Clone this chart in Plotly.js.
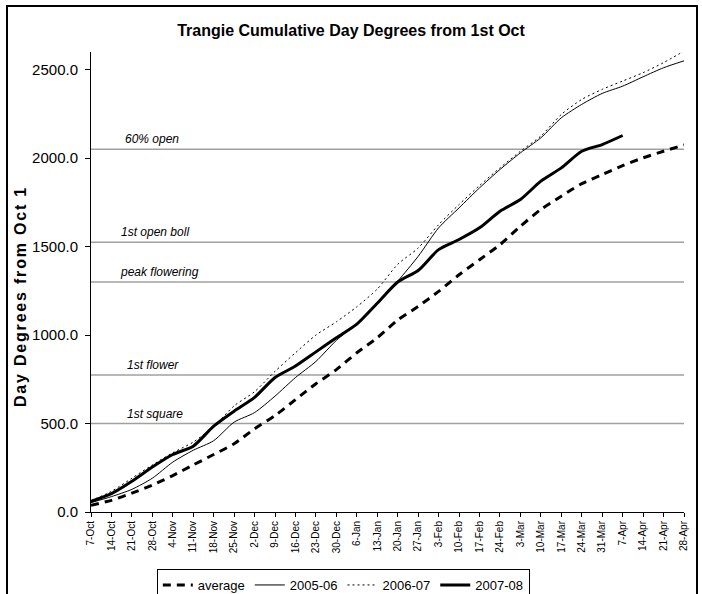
<!DOCTYPE html>
<html>
<head>
<meta charset="utf-8">
<script src="https://cdn.plot.ly/plotly-3.0.1.min.js"></script>
<style>
html,body{margin:0;padding:0;background:#fff;}
#chart{width:702px;height:594px;}
text[data-unformatted*="from Oct 1"]{letter-spacing:1.8px;}
</style>
</head>
<body>
<div id="chart"></div>
<script>
// Weekly dates (x categories, shown as d-Mon)
var weeks = ['2005-10-07','2005-10-14','2005-10-21','2005-10-28','2005-11-04','2005-11-11','2005-11-18','2005-11-25',
             '2005-12-02','2005-12-09','2005-12-16','2005-12-23','2005-12-30','2006-01-06','2006-01-13','2006-01-20',
             '2006-01-27','2006-02-03','2006-02-10','2006-02-17','2006-02-24','2006-03-03','2006-03-10','2006-03-17',
             '2006-03-24','2006-03-31','2006-04-07','2006-04-14','2006-04-21','2006-04-28'];

var average = [38,66,107,152,206,266,325,386,470,545,635,725,805,900,985,1085,1162,1247,1341,1426,1511,1615,1710,1785,1856,1907,1958,2002,2039,2075];
var s2005_06 = [53,87,128,191,282,349,403,508,562,655,760,851,970,1065,1180,1305,1445,1606,1719,1832,1936,2030,2115,2228,2304,2366,2407,2460,2511,2550];
var s2006_07 = [64,117,191,266,335,395,483,600,680,795,900,1000,1075,1160,1260,1400,1492,1624,1738,1845,1945,2039,2125,2247,2332,2389,2436,2483,2540,2605];
var s2007_08 = [60,104,174,254,325,372,485,570,648,760,825,905,985,1062,1180,1300,1365,1483,1540,1606,1700,1766,1870,1945,2039,2077,2128];

var stageNames  = ['1st square','1st flower','peak flowering','1st open boll','60% open'];
var stageLevels = [500,775,1300,1525,2050];
var stageLabelX = [0.0566,0.0566,0.0456,0.0476,0.0546];

var seriesNames = ['average','2005-06','2006-07','2007-08'];
var yTitle = 'Day Degrees from Oct 1';

var FONT = 'Arial, "Liberation Sans", sans-serif';
var traces = [];

// stage reference lines
for (var i = 0; i < stageLevels.length; i++) {
  traces.push({
    x: [weeks[0], weeks[weeks.length-1]],
    y: [stageLevels[i], stageLevels[i]],
    mode: 'lines', line: {color: '#a0a0a0', width: 1.5},
    showlegend: false, hoverinfo: 'skip'
  });
}

traces.push({x: weeks.slice(0, average.length), y: average, name: seriesNames[0], mode: 'lines',
  line: {color: '#000', width: 3, dash: '8px,6px', shape: 'spline', smoothing: 0.7}});
traces.push({x: weeks.slice(0, s2005_06.length), y: s2005_06, name: seriesNames[1], mode: 'lines',
  line: {color: '#000', width: 1, shape: 'spline', smoothing: 0.7}});
traces.push({x: weeks.slice(0, s2006_07.length), y: s2006_07, name: seriesNames[2], mode: 'lines',
  line: {color: '#000', width: 1, dash: '2px,3px', shape: 'spline', smoothing: 0.7}});
traces.push({x: weeks.slice(0, s2007_08.length), y: s2007_08, name: seriesNames[3], mode: 'lines',
  line: {color: '#000', width: 3, shape: 'spline', smoothing: 0.7}});

var annotations = [];
for (var j = 0; j < stageNames.length; j++) {
  annotations.push({
    xref: 'paper', yref: 'y', x: stageLabelX[j], y: stageLevels[j],
    xanchor: 'left', yanchor: 'bottom', yshift: 1,
    text: '<i>' + stageNames[j] + '</i>', showarrow: false,
    font: {family: FONT, size: 12, color: '#000'}
  });
}
// y-axis title
annotations.push({
  xref: 'paper', yref: 'paper', x: (20-91)/593, y: (512-297)/460,
  xanchor: 'center', yanchor: 'middle', textangle: -90,
  text: '<b>' + yTitle + '</b>', showarrow: false,
  font: {family: FONT, size: 16, color: '#000'}
});

var layout = {
  width: 702, height: 594,
  paper_bgcolor: '#fff', plot_bgcolor: '#fff',
  margin: {l: 91, r: 18, t: 52, b: 82, autoexpand: false},
  font: {family: FONT, color: '#000'},
  title: {text: '<b>Trangie Cumulative Day Degrees from 1st Oct</b>', font: {family: FONT, size: 16, color: '#000'},
          xref: 'container', x: 0.5, xanchor: 'center', yref: 'container', y: 0.948, yanchor: 'middle'},
  xaxis: {
    type: 'date', range: [weeks[0], weeks[weeks.length-1]],
    tick0: weeks[0], dtick: 7*86400000, tickformat: '%-d-%b',
    tickangle: -90, tickfont: {family: FONT, size: 10, color: '#000'},
    ticks: 'outside', ticklen: 4, tickcolor: '#000',
    showline: true, linecolor: '#000', linewidth: 1,
    showgrid: false, zeroline: false, fixedrange: true
  },
  yaxis: {
    range: [0, 2600], dtick: 500, tick0: 0, tickformat: '.1f',
    tickfont: {family: FONT, size: 15, color: '#000'},
    ticks: 'outside', ticklen: 5, tickcolor: '#000', ticklabelstandoff: 4,
    showline: true, linecolor: '#000', linewidth: 1,
    showgrid: false, zeroline: false
  },
  showlegend: true,
  legend: {
    orientation: 'h', x: 0.111, xanchor: 'left', y: (512-569)/460, yanchor: 'top',
    font: {family: FONT, size: 13, color: '#000'},
    bordercolor: '#000', borderwidth: 1, bgcolor: '#fff',
    traceorder: 'normal', itemwidth: 30
  },
  annotations: annotations,
  shapes: [{
    type: 'rect', xref: 'paper', yref: 'paper',
    x0: (7-91)/593, x1: (697-91)/593, y0: (512-605)/460, y1: (512-6)/460,
    line: {color: '#000', width: 2}, fillcolor: 'rgba(0,0,0,0)', layer: 'above'
  }]
};

Plotly.newPlot('chart', traces, layout, {displayModeBar: false, staticPlot: true});
</script>
</body>
</html>
